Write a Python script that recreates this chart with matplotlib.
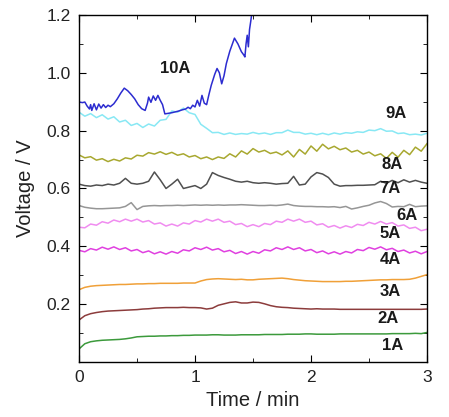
import numpy as np
import matplotlib
matplotlib.use('Agg')
import matplotlib.pyplot as plt
from matplotlib.ticker import MultipleLocator

plt.rcParams['font.family'] = ['Liberation Sans', 'DejaVu Sans']

# time axis shared by 1A..9A (min)
time = np.round(np.arange(0, 3.0001, 0.05), 2)

v1 = [0.045, 0.063, 0.070, 0.073, 0.075, 0.076, 0.077, 0.078, 0.080, 0.083,
      0.087, 0.088, 0.089, 0.089, 0.090, 0.090, 0.091, 0.091, 0.092, 0.092,
      0.093, 0.093, 0.093, 0.094, 0.094, 0.093, 0.093, 0.093, 0.094, 0.094,
      0.094, 0.094, 0.095, 0.095, 0.095, 0.095, 0.096, 0.096, 0.096, 0.097,
      0.097, 0.096, 0.096, 0.096, 0.096, 0.097, 0.097, 0.097, 0.097, 0.097,
      0.097, 0.097, 0.097, 0.097, 0.098, 0.098, 0.098, 0.098, 0.099, 0.098, 0.102]

v2 = [0.145, 0.160, 0.167, 0.171, 0.174, 0.176, 0.177, 0.178, 0.179, 0.180,
      0.181, 0.183, 0.184, 0.186, 0.187, 0.188, 0.188, 0.188, 0.189, 0.188,
      0.188, 0.187, 0.183, 0.186, 0.196, 0.201, 0.206, 0.208, 0.204, 0.204,
      0.207, 0.206, 0.201, 0.195, 0.191, 0.189, 0.188, 0.186, 0.185, 0.184,
      0.183, 0.184, 0.183, 0.183, 0.183, 0.182, 0.182, 0.182, 0.182, 0.182,
      0.182, 0.182, 0.182, 0.182, 0.182, 0.182, 0.182, 0.182, 0.182, 0.182, 0.183]

v3 = [0.250, 0.258, 0.262, 0.264, 0.265, 0.266, 0.267, 0.268, 0.268, 0.269,
      0.270, 0.270, 0.271, 0.271, 0.272, 0.272, 0.272, 0.272, 0.273, 0.273,
      0.273, 0.280, 0.285, 0.287, 0.288, 0.287, 0.286, 0.285, 0.286, 0.284,
      0.284, 0.286, 0.287, 0.288, 0.289, 0.290, 0.288, 0.285, 0.283, 0.281,
      0.280, 0.279, 0.278, 0.278, 0.278, 0.278, 0.279, 0.279, 0.280, 0.281,
      0.282, 0.283, 0.284, 0.284, 0.285, 0.285, 0.285, 0.286, 0.290, 0.296, 0.302]

v4 = [0.386, 0.381, 0.392, 0.387, 0.397, 0.390, 0.398, 0.389, 0.395, 0.384,
      0.389, 0.378, 0.384, 0.374, 0.381, 0.373, 0.382, 0.376, 0.388, 0.384,
      0.395, 0.389, 0.397, 0.387, 0.392, 0.381, 0.386, 0.375, 0.382, 0.373,
      0.382, 0.376, 0.388, 0.384, 0.395, 0.389, 0.398, 0.389, 0.395, 0.384,
      0.389, 0.378, 0.384, 0.374, 0.381, 0.373, 0.382, 0.377, 0.389, 0.385,
      0.396, 0.390, 0.398, 0.388, 0.393, 0.382, 0.387, 0.377, 0.383, 0.374, 0.382]

v5 = [0.466, 0.464, 0.477, 0.473, 0.485, 0.480, 0.491, 0.485, 0.494, 0.487,
      0.494, 0.484, 0.489, 0.477, 0.481, 0.470, 0.477, 0.470, 0.481, 0.477,
      0.489, 0.484, 0.494, 0.487, 0.494, 0.483, 0.487, 0.475, 0.479, 0.468,
      0.475, 0.468, 0.479, 0.475, 0.487, 0.483, 0.494, 0.487, 0.494, 0.483,
      0.487, 0.474, 0.478, 0.466, 0.472, 0.463, 0.471, 0.465, 0.476, 0.472,
      0.483, 0.477, 0.486, 0.477, 0.482, 0.470, 0.474, 0.462, 0.466, 0.454, 0.459]

v6 = [0.541, 0.535, 0.532, 0.530, 0.530, 0.531, 0.532, 0.533, 0.538, 0.551,
      0.527, 0.538, 0.540, 0.541, 0.540, 0.541, 0.541, 0.542, 0.541, 0.542,
      0.543, 0.542, 0.543, 0.542, 0.543, 0.542, 0.543, 0.543, 0.544, 0.543,
      0.542, 0.541, 0.541, 0.542, 0.541, 0.543, 0.546, 0.541, 0.539, 0.538,
      0.538, 0.537, 0.537, 0.536, 0.537, 0.534, 0.538, 0.529, 0.533, 0.538,
      0.542, 0.550, 0.555, 0.548, 0.536, 0.538, 0.537, 0.545, 0.537, 0.539, 0.540]

v7 = [0.615, 0.610, 0.608, 0.612, 0.610, 0.615, 0.612, 0.618, 0.635, 0.618,
      0.615, 0.618, 0.625, 0.657, 0.630, 0.600, 0.615, 0.632, 0.600, 0.605,
      0.610, 0.600, 0.615, 0.655, 0.645, 0.638, 0.632, 0.625, 0.622, 0.625,
      0.620, 0.618, 0.620, 0.618, 0.615, 0.617, 0.618, 0.642, 0.612, 0.615,
      0.640, 0.655, 0.650, 0.638, 0.615, 0.608, 0.610, 0.610, 0.611, 0.611,
      0.612, 0.613, 0.625, 0.618, 0.628, 0.620, 0.630, 0.622, 0.628, 0.622, 0.618]

v8 = [0.716, 0.706, 0.710, 0.698, 0.703, 0.693, 0.701, 0.695, 0.706, 0.702,
      0.715, 0.712, 0.724, 0.719, 0.727, 0.718, 0.725, 0.715, 0.720, 0.709,
      0.714, 0.703, 0.709, 0.700, 0.709, 0.704, 0.720, 0.709, 0.730, 0.719,
      0.738, 0.726, 0.732, 0.721, 0.726, 0.716, 0.730, 0.709, 0.735, 0.719,
      0.747, 0.729, 0.753, 0.737, 0.746, 0.734, 0.740, 0.726, 0.732, 0.719,
      0.726, 0.713, 0.720, 0.704, 0.725, 0.708, 0.732, 0.717, 0.743, 0.729, 0.755]

v9 = [0.864, 0.850, 0.859, 0.845, 0.855, 0.840, 0.848, 0.830, 0.836, 0.818,
      0.825, 0.811, 0.823, 0.816, 0.836, 0.839, 0.868, 0.864, 0.878, 0.862,
      0.856, 0.822, 0.808, 0.793, 0.794, 0.787, 0.792, 0.787, 0.790, 0.788,
      0.794, 0.789, 0.792, 0.787, 0.793, 0.793, 0.802, 0.794, 0.794, 0.788,
      0.791, 0.786, 0.791, 0.786, 0.792, 0.788, 0.793, 0.791, 0.796, 0.794,
      0.802, 0.800, 0.807, 0.798, 0.799, 0.790, 0.792, 0.786, 0.788, 0.785, 0.791]

# 10A runs away, sampled on its own time grid
t10 = [0.00, 0.03, 0.05, 0.07, 0.09, 0.10, 0.11, 0.13, 0.15, 0.17, 0.19, 0.21,
       0.23, 0.25, 0.27, 0.30, 0.33, 0.36, 0.39, 0.42, 0.45, 0.48, 0.51, 0.54,
       0.57, 0.59, 0.60, 0.62, 0.64, 0.66, 0.68, 0.70, 0.72, 0.74, 0.77, 0.80,
       0.83, 0.86, 0.89, 0.92, 0.94, 0.96, 0.98, 1.00, 1.02, 1.04, 1.06, 1.08,
       1.10, 1.12, 1.14, 1.17, 1.19, 1.21, 1.23, 1.25, 1.27, 1.30, 1.34, 1.37,
       1.40, 1.42, 1.43, 1.44, 1.45, 1.46, 1.47, 1.48, 1.49, 1.50]
v10 = [0.899, 0.897, 0.899, 0.885, 0.875, 0.890, 0.870, 0.893, 0.872, 0.892, 0.878, 0.890,
       0.880, 0.888, 0.883, 0.893, 0.910, 0.930, 0.947, 0.938, 0.925, 0.910, 0.890, 0.876,
       0.870, 0.895, 0.916, 0.898, 0.920, 0.905, 0.922, 0.905, 0.890, 0.858, 0.860, 0.862,
       0.865, 0.868, 0.872, 0.875, 0.881, 0.876, 0.888, 0.882, 0.905, 0.885, 0.922, 0.895,
       0.890, 0.925, 0.957, 0.995, 1.015, 1.000, 0.962, 0.990, 1.032, 1.075, 1.120, 1.100,
       1.073, 1.062, 1.055, 1.100, 1.130, 1.090, 1.150, 1.177, 1.206, 1.230]

labels = ['1A', '2A', '3A', '4A', '5A', '6A', '7A', '8A', '9A', '10A']
colors = ['#3c9a3c', '#8c3c3c', '#f0a038', '#e040e0', '#f08cf0',
          '#969696', '#505050', '#a8a830', '#88e8f4', '#2c2cd0']
label_pos = [(2.70, 0.058), (2.66, 0.151), (2.68, 0.242), (2.68, 0.353), (2.68, 0.444),
             (2.83, 0.506), (2.68, 0.600), (2.70, 0.684), (2.73, 0.858), (0.83, 1.015)]

fig = plt.figure(figsize=(4.49, 4.17), dpi=100)
ax = fig.add_axes([0.176, 0.132, 0.775, 0.832])

series = [v1, v2, v3, v4, v5, v6, v7, v8, v9]
for v, c in zip(series, colors[:9]):
    ax.plot(time, v, color=c, lw=1.1)
ax.plot(t10, v10, color=colors[9], lw=1.1)

for lab, (x, y) in zip(labels, label_pos):
    ax.text(x, y, lab, fontsize=12, fontweight='bold', ha='center', va='center',
            color='#1a1a1a')

ax.set_xlim(0, 3)
ax.set_ylim(0, 1.2)
ax.xaxis.set_major_locator(MultipleLocator(1))
ax.xaxis.set_minor_locator(MultipleLocator(0.5))
ax.yaxis.set_minor_locator(MultipleLocator(0.1))
ax.set_yticks([0.2, 0.4, 0.6, 0.8, 1.0, 1.2])
ax.set_yticklabels(['0.2', '0.4', '0.6', '0.8', '1.0', '1.2'])
ax.tick_params(which='both', direction='in', top=True, right=True, labelsize=12.5,
               pad=6, labelcolor='#222222')
ax.tick_params(which='major', length=5)
ax.tick_params(which='minor', length=3)
for s in ax.spines.values():
    s.set_linewidth(1.0)

ax.set_xlabel('Time / min', fontsize=14.5, labelpad=4, color='#222222')
ax.set_ylabel('Voltage / V', fontsize=14.5, labelpad=8, color='#222222')

fig.savefig('out.png', dpi=100)
